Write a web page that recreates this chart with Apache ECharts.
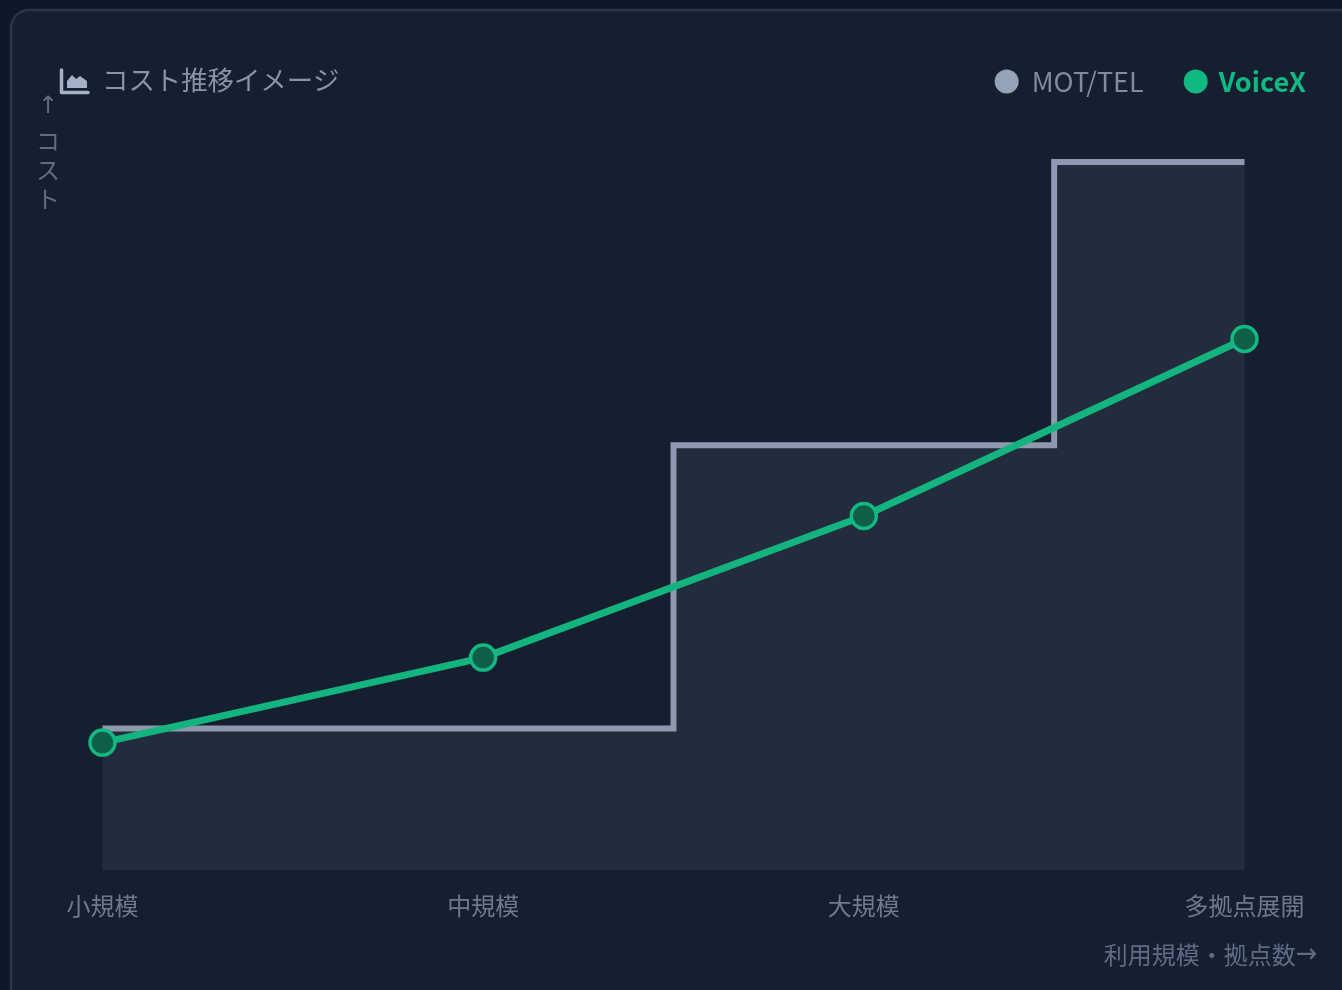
<!DOCTYPE html>
<html>
<head>
<meta charset="utf-8">
<style>html,body{margin:0;padding:0;background:#0f172a}#c{width:1342px;height:990px}</style>
<script src="https://cdn.jsdelivr.net/npm/echarts@6/dist/echarts.min.js"></script>
</head>
<body>
<div id="c"></div>
<script>
const categories = ['小規模', '中規模', '大規模', '多拠点展開'];
const motTel = [20, 20, 60, 100];
const voiceX = [18, 30, 50, 75];
const titleText = 'コスト推移イメージ';
const xNameText = '利用規模・拠点数';
const xArrow = '→';
const yArrow = '↑';
const yName = ['コ', 'ス', 'ト'];

const FONT = '"Noto Sans CJK JP","Noto Sans",sans-serif';
const ARROW_FONT = '"DejaVu Sans",sans-serif';
const chart = echarts.init(document.getElementById('c'), null, {renderer: 'canvas'});
chart.setOption({
  animation: false,
  backgroundColor: '#0f172a',
  textStyle: {fontFamily: FONT},
  grid: {left: 102.5, right: 97.5, top: 162, bottom: 120, containLabel: false},
  legend: {
    right: 31, top: 63, itemWidth: 24, itemHeight: 24, itemGap: 40,
    icon: 'circle',
    selectedMode: false,
    data: [
      {name: 'MOT/TEL', itemStyle: {color: '#94a3b8', borderWidth: 0},
       textStyle: {color: '#7f8ba0', fontSize: 27, fontFamily: FONT, padding: [0, 0, 0, 8]}},
      {name: 'VoiceX', itemStyle: {color: '#10b981', borderWidth: 0},
       textStyle: {color: '#10b981', fontSize: 27, fontWeight: 700, fontFamily: FONT, padding: [0, 0, 0, 6]}}
    ]
  },
  xAxis: {
    type: 'category', data: categories, boundaryGap: false,
    axisLine: {show: false}, axisTick: {show: false}, splitLine: {show: false},
    axisLabel: {color: '#6f7a8c', fontSize: 24, margin: 24, fontFamily: FONT, hideOverlap: false, interval: 0},
    name: xNameText + '{arrow|' + xArrow + '}', nameLocation: 'end', nameGap: 73,
    nameTextStyle: {
      color: '#5f6d84', fontSize: 24, fontFamily: FONT, align: 'right', verticalAlign: 'top', padding: [72, 0, 0, 0],
      rich: {arrow: {color: '#5f6d84', fontSize: 26, fontFamily: ARROW_FONT}}
    }
  },
  yAxis: {
    type: 'value', min: 0, max: 100, show: false
  },
  series: [
    {
      name: 'MOT/TEL', type: 'line', data: motTel, step: 'middle', showSymbol: false, symbol: 'none', z: 2,
      itemStyle: {color: '#94a3b8'},
      lineStyle: {color: '#8d99ae', width: 6, join: 'miter'},
      areaStyle: {color: '#222c3d', opacity: 1}
    },
    {
      name: 'VoiceX', type: 'line', data: voiceX, smooth: false, z: 3,
      symbol: 'circle', symbolSize: 25, showSymbol: true,
      itemStyle: {color: '#0d5f47', borderColor: '#14b883', borderWidth: 3.5, opacity: 1},
      lineStyle: {color: '#14b47f', width: 7}
    }
  ],
  graphic: [
    {type: 'rect', z: -10, silent: true,
     shape: {x: 11, y: 10, width: 1400, height: 1100, r: 18},
     style: {fill: '#161f30', stroke: '#2b3648', lineWidth: 2.5}},
    {type: 'polyline', z: 5, silent: true,
     shape: {points: [[61.5, 70], [61.5, 92.5], [88, 92.5]]},
     style: {fill: null, stroke: '#a3b0c6', lineWidth: 3.5, lineCap: 'round', lineJoin: 'round'}},
    {type: 'polygon', z: 5, silent: true,
     shape: {points: [[67, 88], [67, 81], [72, 75], [76, 79], [80, 76], [87, 81], [87, 88]]},
     style: {fill: '#a3b0c6'}},
    {type: 'text', z: 5, silent: true, left: 102, top: 67,
     style: {text: titleText, fill: '#8894a8', font: '26.4px ' + FONT}},
    {type: 'text', z: 5, silent: true, left: 36, top: 95,
     style: {
       text: '{a|' + yArrow + '}\n' + yName.map(c => '{b|' + c + '}').join('\n'),
       fill: '#5f6d84',
       rich: {
         a: {fontSize: 24, lineHeight: 38, fill: '#5f6d84', fontFamily: ARROW_FONT, align: 'center'},
         b: {fontSize: 24, lineHeight: 29, fill: '#5f6d84', fontFamily: FONT, align: 'center'}
       }
     }}
  ]
});
</script>
</body>
</html>
